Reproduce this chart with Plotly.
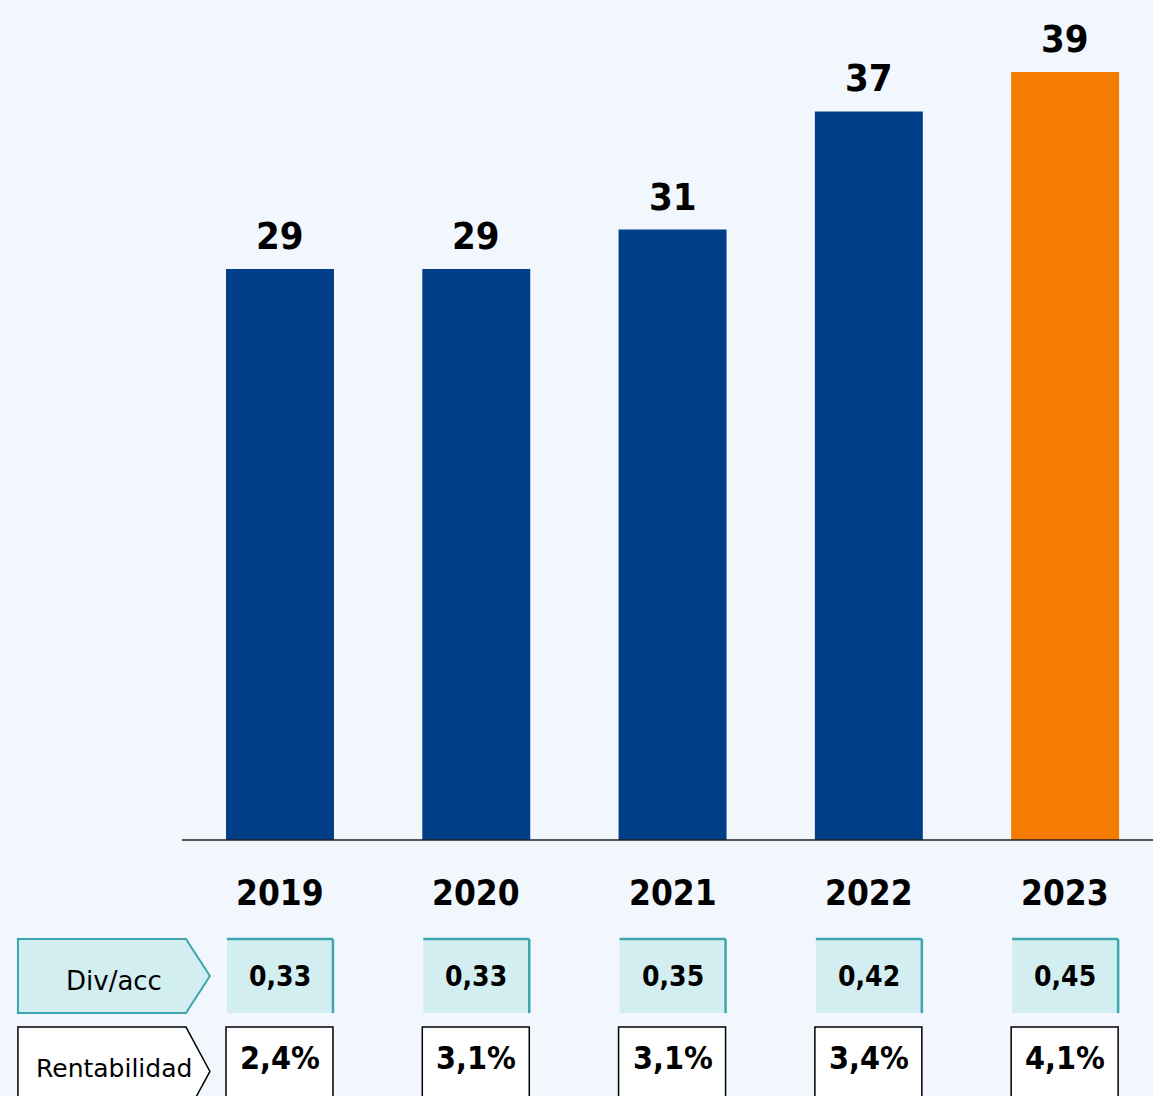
import plotly.graph_objects as go

years = ["2019", "2020", "2021", "2022", "2023"]
dividend_total = [29, 29, 31, 37, 39]
div_per_share = ["0,33", "0,33", "0,35", "0,42", "0,45"]
yield_pct = ["2,4%", "3,1%", "3,1%", "3,4%", "4,1%"]

BG = "#f2f7fe"
NAVY = "#003f87"
ORANGE = "#f57c00"
TEAL_FILL = "#d3eef0"
TEAL_LINE = "#3ba6ae"
FONT = "DejaVu Sans"
FONT_B = "DejaVu Sans Condensed, DejaVu Sans"

x = list(range(len(years)))
colors = [NAVY] * (len(years) - 1) + [ORANGE]

fig = go.Figure(go.Bar(
    x=x, y=dividend_total, marker_color=colors, marker_line_width=0,
    width=0.55, hoverinfo="skip",
))

# value labels above bars
for i, v in enumerate(dividend_total):
    fig.add_annotation(x=i, y=v, text=f"<b>{v}</b>", showarrow=False,
                       yanchor="bottom", yshift=9,
                       font=dict(family=FONT_B, size=38, color="black"))

# year labels
for i, yr in enumerate(years):
    fig.add_annotation(x=i, y=-2.69, text=f"<b>{yr}</b>", showarrow=False,
                       font=dict(family=FONT_B, size=35, color="black"))

# baseline
fig.add_shape(type="line", xref="x", yref="y", x0=-0.5, x1=4.6, y0=0, y1=0,
              line=dict(color="#222222", width=1.5))

# row headers (arrow boxes)
row1_top, row1_bot = -5.03, -8.79
row2_top, row2_bot = -9.50, -14.0


def arrow_path(top, bot):
    mid = (top + bot) / 2
    return (f"M -1.335 {top} L -0.479 {top} L -0.357 {mid} "
            f"L -0.479 {bot} L -1.335 {bot} Z")


fig.add_shape(type="path", xref="x", yref="y", path=arrow_path(row1_top, row1_bot),
              fillcolor=TEAL_FILL, line=dict(color=TEAL_LINE, width=2))
fig.add_shape(type="path", xref="x", yref="y", path=arrow_path(row2_top, row2_bot),
              fillcolor="white", line=dict(color="black", width=1.5))
fig.add_annotation(x=-0.846, y=-7.15, text="Div/acc", showarrow=False,
                   font=dict(family=FONT, size=26, color="black"))
fig.add_annotation(x=-0.846, y=-11.62, text="Rentabilidad", showarrow=False,
                   font=dict(family=FONT, size=25, color="black"))

# table cells
for i in x:
    fig.add_shape(type="rect", xref="x", yref="y", x0=i - 0.27, x1=i + 0.27,
                  y0=row1_bot, y1=row1_top, fillcolor=TEAL_FILL, line_width=0)
    fig.add_shape(type="line", xref="x", yref="y", x0=i - 0.27, x1=i + 0.27,
                  y0=row1_top, y1=row1_top, line=dict(color=TEAL_LINE, width=2.5))
    fig.add_shape(type="line", xref="x", yref="y", x0=i + 0.27, x1=i + 0.27,
                  y0=row1_top, y1=row1_bot, line=dict(color=TEAL_LINE, width=2.5))
    fig.add_annotation(x=i, y=-6.95, text=f"<b>{div_per_share[i]}</b>", showarrow=False,
                       font=dict(family=FONT_B, size=28, color="black"))
    fig.add_shape(type="rect", xref="x", yref="y", x0=i - 0.275, x1=i + 0.27,
                  y0=row2_bot, y1=row2_top, fillcolor="white",
                  line=dict(color="black", width=1.5))
    fig.add_annotation(x=i, y=-11.05, text=f"<b>{yield_pct[i]}</b>", showarrow=False,
                       font=dict(family=FONT_B, size=32, color="black"))

fig.update_layout(
    width=1153, height=1096,
    margin=dict(l=0, r=0, t=0, b=0),
    paper_bgcolor=BG, plot_bgcolor=BG,
    showlegend=False,
    xaxis=dict(range=[-1.4264, 4.4476], visible=False, fixedrange=True),
    yaxis=dict(range=[-13.0, 42.66], visible=False, fixedrange=True),
)

# drop the default page margin so the figure sits at the top-left corner
fig.write_html("out.html", config={"displayModeBar": False},
               post_script="document.body.style.margin='0';")
